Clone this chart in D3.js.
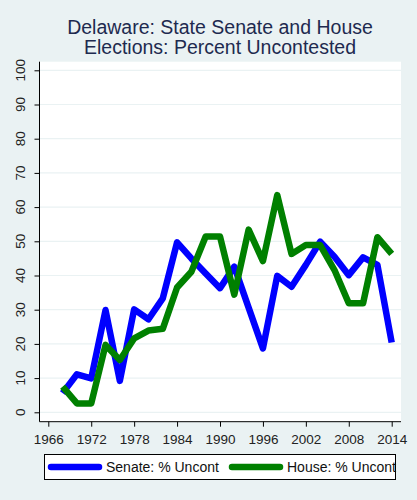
<!DOCTYPE html>
<html><head><meta charset="utf-8">
<script src="https://cdn.jsdelivr.net/npm/d3@7"></script>
<style>body{margin:0;background:#eaf2f3;}svg{display:block;}</style>
</head><body>
<script>
const years = [1968,1970,1972,1974,1976,1978,1980,1982,1984,1986,1988,1990,1992,1994,1996,1998,2000,2002,2004,2006,2008,2010,2012,2014];
const senate = [5.6,11.1,9.9,29.9,9.2,30.1,27.2,33.3,49.7,45.0,40.6,36.3,42.6,30.6,18.7,39.9,36.7,43.1,49.9,45.5,40.1,45.3,43.1,20.4];
const house = [7.5,2.6,2.6,19.7,15.3,21.6,23.9,24.4,36.5,41.1,51.4,51.4,34.4,53.4,44.2,63.5,46.3,48.9,48.9,41.6,31.9,31.9,51.2,46.3];
const xTicks = [1966,1972,1978,1984,1990,1996,2002,2008,2014];
const yTicks = [0,10,20,30,40,50,60,70,80,90,100];
const titleLines = ["Delaware: State Senate and House","Elections: Percent Uncontested"];
const seriesNames = ["Senate: % Uncont","House: % Uncont"];
const colors = ["#0000ff","#008000"];

const W=417,H=500;
const svg=d3.select("body").append("svg").attr("width",W).attr("height",H);
svg.append("rect").attr("width",W).attr("height",H).attr("fill","#eaf2f3");
const pl=39.5,pr=401,pt=61.7,pb=421.7;
svg.append("rect").attr("x",pl).attr("y",pt).attr("width",pr-pl).attr("height",pb-pt).attr("fill","#fff");
const x=d3.scaleLinear().domain([1966,2014]).range([48.3,391.7]);
const y=d3.scaleLinear().domain([0,100]).range([412.3,70.3]);
// grid
svg.append("g").selectAll("line").data(yTicks).join("line")
 .attr("x1",pl).attr("x2",pr).attr("y1",d=>y(d)).attr("y2",d=>y(d))
 .attr("stroke","#eaf2f3").attr("stroke-width",1.2);
// axes
const font="Liberation Sans, Arial, sans-serif";
const yAx=svg.append("g").attr("transform",`translate(${pl},0)`)
 .call(d3.axisLeft(y).tickValues(yTicks).tickSize(5).tickPadding(3).tickSizeOuter(0));
yAx.select(".domain").attr("d",`M0,${pt}V${pb}`).attr("stroke","#000");
yAx.selectAll("text").remove();
svg.append("g").selectAll("text").data(yTicks).join("text")
 .attr("transform",d=>`translate(25,${y(d)}) rotate(-90)`)
 .attr("text-anchor","middle").attr("font-family",font).attr("font-size",13.5)
 .attr("fill","#222").text(d=>d);
const xAx=svg.append("g").attr("transform",`translate(0,${pb})`)
 .call(d3.axisBottom(x).tickValues(xTicks).tickFormat(d3.format("d")).tickSize(5).tickPadding(7.5).tickSizeOuter(0));
xAx.select(".domain").attr("d",`M${pl},0H${pr}`).attr("stroke","#000");
xAx.selectAll("text").attr("font-family",font).attr("font-size",13.5).attr("fill","#222");
// lines
const line=d3.line().x((d,i)=>x(years[i])).y(d=>y(d));
[senate,house].forEach((s,k)=>{
 svg.append("path").attr("d",line(s)).attr("fill","none").attr("stroke",colors[k])
  .attr("stroke-width",6.5).attr("stroke-linejoin","round").attr("stroke-linecap","butt");
});
// title
svg.append("text").attr("x",220).attr("y",33.5).attr("text-anchor","middle")
 .attr("font-family",font).attr("font-size",19.5).attr("fill","#1e2a4f")
 .selectAll("tspan").data(titleLines).join("tspan").attr("x",220).attr("dy",(d,i)=>i?20:0).text(d=>d);
// legend
svg.append("rect").attr("x",44.5).attr("y",454.5).attr("width",351).attr("height",25)
 .attr("fill","#fff").attr("stroke","#000").attr("stroke-width",1);
const lg=svg.append("g");
const lx=[49,230];
seriesNames.forEach((n,k)=>{
 lg.append("line").attr("x1",lx[k]+2).attr("x2",lx[k]+50).attr("y1",467).attr("y2",467)
  .attr("stroke",colors[k]).attr("stroke-width",6.5).attr("stroke-linecap","round");
 lg.append("text").attr("x",lx[k]+57).attr("y",472).attr("font-family",font).attr("font-size",14)
  .attr("fill","#111").text(n);
});
</script>
</body></html>
